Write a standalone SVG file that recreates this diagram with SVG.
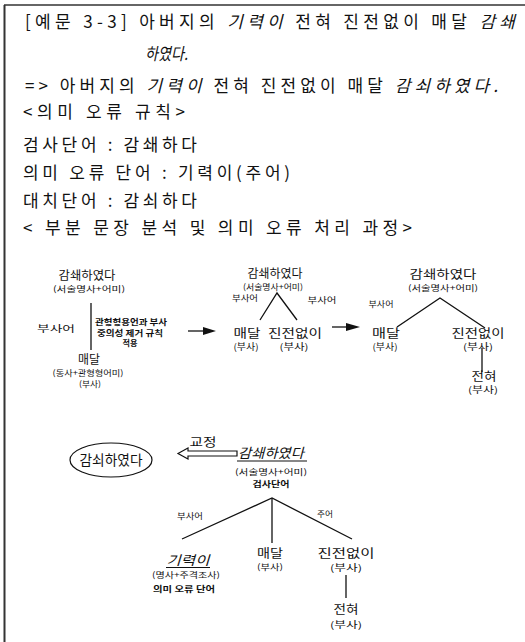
<svg xmlns="http://www.w3.org/2000/svg" width="525" height="642" viewBox="0 0 525 642">
<style>
text{font-family:"Noto Sans CJK KR","Noto Sans",sans-serif;fill:#111}
.t{font-size:17px}
.i{font-style:italic}
.n{font-size:12px;text-anchor:middle}
.s{font-size:8.2px;text-anchor:middle}
.m{font-size:9px;text-anchor:middle}
.b{font-weight:bold}
.e{stroke:#111;stroke-width:1.3;fill:none}
</style>
<rect width="525" height="642" fill="#fff"/>
<g id="frame">
<line x1="4" y1="5" x2="525" y2="5" stroke="#333" stroke-width="1.5"/>
<line x1="4.5" y1="5" x2="4.5" y2="642" stroke="#333" stroke-width="2"/>
</g>
<g id="header">
<text class="t" x="25" y="28" textLength="490" lengthAdjust="spacing">[예문 3-3] 아버지의 <tspan class="i">기력이</tspan> 전혀 진전없이 매달 <tspan class="i">감쇄</tspan></text>
<text class="t i" x="145" y="60" textLength="43" lengthAdjust="spacingAndGlyphs">하였다.</text>
<text class="t" x="25" y="92" textLength="473" lengthAdjust="spacing">=&gt; 아버지의 <tspan class="i">기력이</tspan> 전혀 진전없이 매달 <tspan class="i">감쇠하였다.</tspan></text>
<text class="t" x="23" y="118" textLength="162" lengthAdjust="spacing">&lt;의미 오류 규칙&gt;</text>
<text class="t" x="23" y="151" textLength="174" lengthAdjust="spacing">검사단어 : 감쇄하다</text>
<text class="t" x="23" y="179" textLength="267" lengthAdjust="spacing">의미 오류 단어 : 기력이(주어)</text>
<text class="t" x="23" y="207" textLength="174" lengthAdjust="spacing">대치단어 : 감쇠하다</text>
<text class="t" x="23" y="234" textLength="389" lengthAdjust="spacing">&lt; 부분 문장 분석 및 의미 오류 처리 과정&gt;</text>
</g>
<g id="connectors">
<line class="e" x1="91" y1="303" x2="91" y2="350"/>
<line class="e" x1="188" y1="331" x2="205" y2="331"/>
<polygon points="203,327 216,331 203,335" fill="#111"/>
<polyline class="e" points="260,320 277,293 297,320"/>
<line class="e" x1="332" y1="327" x2="348" y2="327"/>
<polygon points="346,323 360,327 346,331" fill="#111"/>
<polyline class="e" points="397,327 440,298 485,328"/>
<line class="e" x1="482" y1="348" x2="482" y2="372"/>
<polygon points="178,453.5 188,448 188,451 237,451 237,456 188,456 188,459" fill="#fff" stroke="#111" stroke-width="1.2"/>
<polyline class="e" points="182,539 272,498 352,539"/>
<line class="e" x1="272" y1="498" x2="272" y2="543"/>
<line class="e" x1="346" y1="575" x2="346" y2="598"/>
</g>
<g id="tree1">
<text class="n" x="87" y="280" textLength="57" lengthAdjust="spacingAndGlyphs">감쇄하였다</text>
<text class="s" x="89" y="292" textLength="72" lengthAdjust="spacingAndGlyphs">(서술명사+어미)</text>
<text class="m" x="56" y="332" textLength="38" lengthAdjust="spacingAndGlyphs">부사어</text>
<text class="s b" x="131" y="325" textLength="72" lengthAdjust="spacingAndGlyphs">관형형용언과 부사</text>
<text class="s b" x="130" y="335.5" textLength="66" lengthAdjust="spacingAndGlyphs">중의성 제거 규칙</text>
<text class="s b" x="130" y="346" textLength="15" lengthAdjust="spacingAndGlyphs">적용</text>
<text class="n" x="89" y="363.5" textLength="22" lengthAdjust="spacingAndGlyphs">매달</text>
<text class="s" x="88" y="375.5" textLength="71" lengthAdjust="spacingAndGlyphs">(동사+관형형어미)</text>
<text class="s" x="90" y="386.5" textLength="22" lengthAdjust="spacingAndGlyphs">(부사)</text>
</g>
<g id="tree2">
<text class="n" x="275" y="278" textLength="55" lengthAdjust="spacingAndGlyphs">감쇄하였다</text>
<text class="s" x="273" y="290" textLength="60" lengthAdjust="spacingAndGlyphs">(서술명사+어미)</text>
<text class="s" x="245" y="300.5" textLength="26" lengthAdjust="spacingAndGlyphs">부사어</text>
<text class="s" x="322" y="303" textLength="29" lengthAdjust="spacingAndGlyphs">부사어</text>
<text class="n" x="247" y="338" textLength="27" lengthAdjust="spacingAndGlyphs">매달</text>
<text class="n" x="295" y="338" textLength="54" lengthAdjust="spacingAndGlyphs">진전없이</text>
<text class="m" x="246" y="350" textLength="25" lengthAdjust="spacingAndGlyphs">(부사)</text>
<text class="m" x="294" y="350" textLength="29" lengthAdjust="spacingAndGlyphs">(부사)</text>
</g>
<g id="tree3">
<text class="n" x="443" y="279" textLength="67" lengthAdjust="spacingAndGlyphs">감쇄하였다</text>
<text class="s" x="443" y="291" textLength="70" lengthAdjust="spacingAndGlyphs">(서술명사+어미)</text>
<text class="s" x="381" y="307" textLength="25" lengthAdjust="spacingAndGlyphs">부사어</text>
<text class="n" x="386" y="338" textLength="28" lengthAdjust="spacingAndGlyphs">매달</text>
<text class="m" x="385" y="350" textLength="25" lengthAdjust="spacingAndGlyphs">(부사)</text>
<text class="n" x="478" y="338" textLength="53" lengthAdjust="spacingAndGlyphs">진전없이</text>
<text class="m" x="478" y="350" textLength="30" lengthAdjust="spacingAndGlyphs">(부사)</text>
<text class="n" x="484" y="381" textLength="25" lengthAdjust="spacingAndGlyphs">전혀</text>
<text class="m" x="483" y="393" textLength="30" lengthAdjust="spacingAndGlyphs">(부사)</text>
</g>
<g id="result">
<ellipse cx="111" cy="460" rx="41" ry="17" fill="none" stroke="#111" stroke-width="1.2"/>
<text class="n" x="111" y="465" style="font-size:13.5px" textLength="63" lengthAdjust="spacingAndGlyphs">감쇠하였다</text>
<text class="n" x="203" y="447" style="font-size:12.5px" textLength="27" lengthAdjust="spacingAndGlyphs">교정</text>
</g>
<g id="tree4">
<text class="n i" x="271" y="458" style="font-size:13.5px" textLength="66" lengthAdjust="spacingAndGlyphs">감쇄하였다</text>
<line x1="237" y1="461" x2="307" y2="461" stroke="#111" stroke-width="1.2"/>
<text class="s" x="271" y="475" textLength="72" lengthAdjust="spacingAndGlyphs">(서술명사+어미)</text>
<text class="s b" x="271" y="487" textLength="37" lengthAdjust="spacingAndGlyphs">검사단어</text>
<text class="s" x="190" y="519" textLength="26" lengthAdjust="spacingAndGlyphs">부사어</text>
<text class="s" x="325" y="517" textLength="16" lengthAdjust="spacingAndGlyphs">주어</text>
<text class="n i" x="188" y="565" style="font-size:13px" textLength="43" lengthAdjust="spacingAndGlyphs">기력이</text>
<line x1="166" y1="567.5" x2="210" y2="567.5" stroke="#111" stroke-width="1.2"/>
<text class="s" x="186" y="578" textLength="68" lengthAdjust="spacingAndGlyphs">(명사+주격조사)</text>
<text class="s b" x="184" y="592" textLength="62" lengthAdjust="spacingAndGlyphs">의미 오류 단어</text>
<text class="n" x="270" y="558" textLength="26" lengthAdjust="spacingAndGlyphs">매달</text>
<text class="s" x="270" y="570" textLength="26" lengthAdjust="spacingAndGlyphs">(부사)</text>
<text class="n" x="346" y="558" textLength="57" lengthAdjust="spacingAndGlyphs">진전없이</text>
<text class="m" x="346" y="571" textLength="32" lengthAdjust="spacingAndGlyphs">(부사)</text>
<text class="n" x="346" y="614" textLength="25" lengthAdjust="spacingAndGlyphs">전혀</text>
<text class="m" x="346" y="628" textLength="32" lengthAdjust="spacingAndGlyphs">(부사)</text>
</g>
</svg>
